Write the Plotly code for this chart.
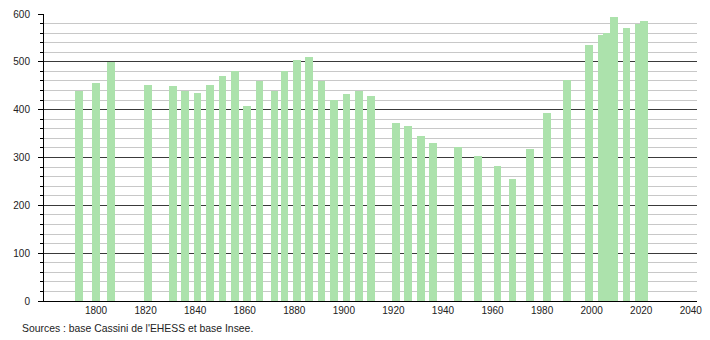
import plotly.graph_objects as go

years = [1793, 1800, 1806, 1821, 1831, 1836, 1841, 1846, 1851, 1856,
         1861, 1866, 1872, 1876, 1881, 1886, 1891, 1896, 1901, 1906,
         1911, 1921, 1926, 1931, 1936, 1946, 1954, 1962, 1968, 1975,
         1982, 1990, 1999, 2004, 2006, 2009, 2014, 2019, 2021]
population = [439, 456, 500, 452, 450, 439, 435, 452, 471, 480,
              408, 459, 438, 480, 503, 510, 459, 420, 433, 439,
              429, 373, 366, 344, 330, 323, 303, 282, 255, 318,
              392, 462, 535, 556, 560, 593, 570, 579, 586]
x_ticks = [1800, 1820, 1840, 1860, 1880, 1900, 1920, 1940, 1960, 1980, 2000, 2020, 2040]
y_ticks = [0, 100, 200, 300, 400, 500, 600]
source_text = "Sources : base Cassini de l'EHESS et base Insee."

fig = go.Figure()
fig.add_trace(go.Bar(
    x=years, y=population, width=3.1,
    marker=dict(color="#ace2ac", line=dict(width=0)),
    hoverinfo="x+y",
))

fig.update_layout(
    width=710, height=340,
    margin=dict(l=44, r=9, t=8, b=39),
    paper_bgcolor="white", plot_bgcolor="white",
    font=dict(family="Liberation Sans, Arial, sans-serif", size=10, color="#222"),
    showlegend=False,
    bargap=0,
)
fig.update_xaxes(
    range=[1779, 2042.5],
    tickmode="array", tickvals=x_ticks,
    showgrid=False, zeroline=False,
    showline=True, linecolor="#000", linewidth=1,
    ticks="", ticklabelstandoff=0,
)
fig.update_yaxes(
    range=[0, 600],
    tickmode="array", tickvals=y_ticks,
    showgrid=True, gridcolor="#3a3a3a", gridwidth=1,
    zeroline=False,
    showline=True, linecolor="#000", linewidth=1,
    ticks="outside", ticklen=5, tickcolor="#000", tickwidth=1,
    ticklabelstandoff=6,
    minor=dict(dtick=20, showgrid=True, gridcolor="#c8c8c8", gridwidth=1,
               ticks="outside", ticklen=3, tickcolor="#000", tickwidth=1),
)
fig.add_annotation(
    text=source_text, xref="paper", yref="paper",
    x=-24 / 657, y=-28 / 293, xanchor="left", yanchor="middle",
    showarrow=False, font=dict(size=10.4, color="#222"),
)
fig.write_html("out.html")
